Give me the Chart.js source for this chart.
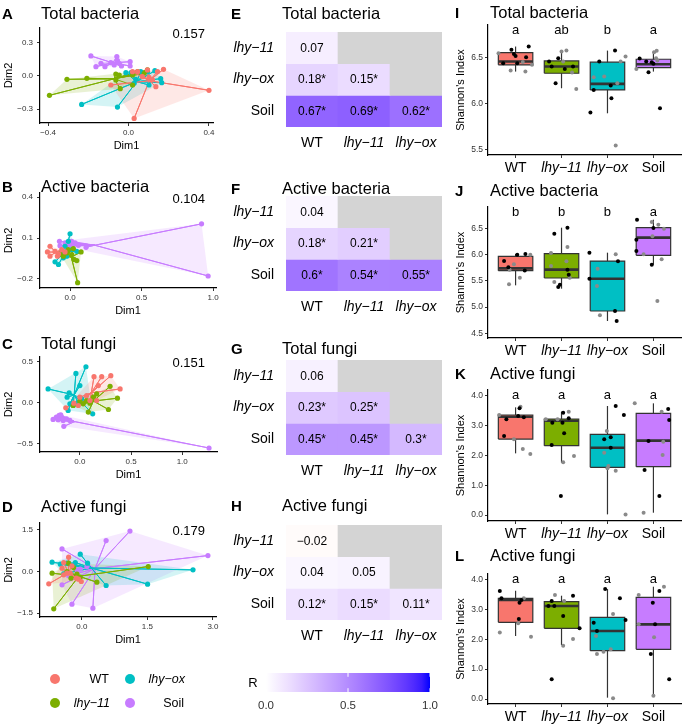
<!DOCTYPE html>
<html><head><meta charset="utf-8">
<script src="https://cdn.jsdelivr.net/npm/chart.js@4.4.0/dist/chart.umd.min.js"></script>
<style>
html,body{margin:0;padding:0;background:#fff;}
#wrap{position:relative;width:685px;height:725px;overflow:hidden;font-family:'Liberation Sans',Arial,sans-serif;}
#wrap canvas{position:absolute;left:0;top:0;}
.t{position:absolute;white-space:nowrap;line-height:1;color:#000;z-index:5;}
.dot{position:absolute;border-radius:50%;z-index:5;}
</style></head><body><div id="wrap"></div>
<script>
// ================= DATA =================
const GROUPS = ['WT', 'lhy−11', 'lhy−ox', 'Soil'];
const HEAT_ROWS = ['lhy−11', 'lhy−ox', 'Soil'];
const HEAT_COLS = ['WT', 'lhy−11', 'lhy−ox'];

// --- Ordination (Dim1, Dim2) points, panel A: Total bacteria
const ordA_WT = [[0.028,-0.385],[0.4,-0.13],[-0.088,-0.082],[0.02,0.039],[0.045,0.039],[0.094,0.055],[0.174,0.061],[0.136,-0.097],[0.119,-0.036],[0.144,0.039],[0.069,-0.006],[0.102,-0.012]];
const ordA_lhy11 = [[-0.393,-0.176],[-0.306,-0.03],[-0.207,-0.021],[-0.063,0.018],[-0.063,-0.036],[-0.041,-0.115],[-0.046,0.009],[0.02,0.009],[0.045,0.039],[0.078,0.024],[0.094,0.055],[0.02,-0.082]];
const ordA_lhyox = [[-0.233,-0.258],[-0.055,-0.282],[-0.013,0.03],[0.012,0.03],[0.036,-0.03],[0.061,0.039],[0.094,0.039],[0.131,0.048],[0.16,-0.024],[0.165,-0.061],[0.102,-0.082],[0.028,-0.067]];
const ordA_Soil = [[-0.187,0.182],[-0.162,0.085],[-0.117,0.085],[-0.088,0.121],[-0.058,0.176],[-0.055,0.139],[-0.071,0.1],[-0.046,0.115],[-0.035,0.091],[0.008,0.13],[0.008,0.091],[-0.137,0.115]];
const ordA_stat = '0.157';
const ordA_xTicks = [-0.4, 0, 0.4];
const ordA_yTicks = [-0.3, 0, 0.3];

// --- panel B: Active bacteria
const ordB_WT = [[-0.14,0.04],[-0.158,-0.002],[-0.14,-0.033],[-0.105,0.003],[-0.081,-0.016],[-0.058,0.015],[-0.035,-0.002],[-0.088,-0.033]];
const ordB_lhy11 = [[0.053,-0.227],[0.077,-0.002],[0.047,-0.065],[0.012,-0.021],[-0.023,-0.009],[-0.047,-0.033],[0.023,0.023],[-0.07,-0.016],[-0.012,0.015],[0.028,-0.057]];
const ordB_lhyox = [[0,0.131],[-0.012,0.076],[-0.081,-0.094],[-0.105,-0.074],[-0.047,-0.045],[-0.058,-0.004],[0.012,0.015],[0.047,0.003],[-0.023,-0.033],[-0.035,0.04]];
const ordB_Soil = [[0.919,0.204],[0.965,-0.178],[-0.074,0.076],[-0.07,0.044],[-0.035,0.064],[0,0.052],[0.035,0.064],[0.058,0.047],[0.112,0.032],[-0.023,0.04],[0.012,0.076]];
const ordB_stat = '0.104';
const ordB_xTicks = [0, 0.5, 1.0];
const ordB_yTicks = [-0.2, 0.1, 0.4];

// --- panel C: Total fungi
const ordC_WT = [[0.138,0.32],[0.213,0.32],[0.302,0.332],[0.393,0.17],[0.066,0.089],[0,0.069],[-0.138,-0.061],[-0.016,-0.032],[0.098,0.028],[0.164,0.028],[0.18,0.211],[-0.059,-0.004]];
const ordC_lhy11 = [[0.295,0.202],[0.367,0.057],[0.279,-0.081],[0.082,-0.113],[0.164,0.109],[0.098,-0.004],[0.033,-0.012],[-0.066,-0.032],[0,0.02],[0.131,0.069],[0.066,0.028]];
const ordC_lhyox = [[-0.311,0.17],[-0.039,0.36],[0.059,0.441],[0,0.211],[-0.105,0.121],[-0.125,0.069],[-0.098,-0.012],[-0.115,-0.093],[-0.066,-0.032],[-0.016,0.008],[0.125,-0.134],[0.016,0.049]];
const ordC_Soil = [[1.262,-0.551],[-0.262,-0.202],[-0.23,-0.174],[-0.203,-0.154],[-0.18,-0.174],[-0.164,-0.215],[-0.157,-0.287],[-0.213,-0.206],[-0.131,-0.194],[-0.098,-0.215],[-0.187,-0.146]];
const ordC_stat = '0.151';
const ordC_xTicks = [0, 0.5, 1.0];
const ordC_yTicks = [-0.5, 0, 0.5];

// --- panel D: Active fungi
const ordD_WT = [[-0.759,-0.444],[-0.304,0.516],[-0.456,0.12],[-0.342,-0.06],[-0.015,-0.36],[-0.129,-0.24],[-0.228,0.204],[-0.418,0.324],[-0.266,-0.06],[-0.076,-0.276],[-0.418,-0.12]];
const ordD_lhy11 = [[-0.645,-1.344],[-0.683,-0.06],[0.342,-0.384],[1.519,0.18],[-0.038,-0.204],[-0.19,0.144],[-0.304,0.3],[-0.114,-0.096],[-0.342,0],[-0.25,-0.24]];
const ordD_lhyox = [[2.544,0.06],[1.503,-0.456],[0.554,-0.504],[-0.038,0.624],[-0.683,0.336],[-0.494,0.264],[-0.342,0.3],[-0.152,0.324],[0.129,0.3],[-0.418,-0.084],[-0.228,0.24]];
const ordD_Soil = [[2.885,0.576],[1.1,1.46],[0.554,1.116],[-0.456,0.816],[-0.456,-0.48],[-0.228,-1.176],[0.251,-1.32],[-0.038,0.084],[-0.304,-0.156],[0.114,0.18],[-0.114,0.06]];
const ordD_stat = '0.179';
const ordD_xTicks = [0, 1.5, 3.0];
const ordD_yTicks = [-1.5, 0, 1.5];

// --- ANOSIM R heatmaps (rows: lhy−11, lhy−ox, Soil; cols: WT, lhy−11, lhy−ox); null = not compared
const heatE_R = [[0.07,null,null],[0.18,0.15,null],[0.67,0.69,0.62]];
const heatE_sig = [[0,0,0],[1,1,0],[1,1,1]];
const heatF_R = [[0.04,null,null],[0.18,0.21,null],[0.6,0.54,0.55]];
const heatF_sig = [[0,0,0],[1,1,0],[1,1,1]];
const heatG_R = [[0.06,null,null],[0.23,0.25,null],[0.45,0.45,0.3]];
const heatG_sig = [[0,0,0],[1,1,0],[1,1,1]];
const heatH_R = [[-0.02,null,null],[0.04,0.05,null],[0.12,0.15,0.11]];
const heatH_sig = [[0,0,0],[0,0,0],[1,1,1]];
const colorbarTicks = [0, 0.5, 1.0];

// --- Shannon index box plots (per group: WT, lhy−11, lhy−ox, Soil)
const boxI_lo  = [6.344, 6.163, 5.891, 6.344];
const boxI_q1  = [6.417, 6.326, 6.145, 6.388];
const boxI_med = [6.453, 6.399, 6.21, 6.424];
const boxI_q3  = [6.551, 6.46, 6.446, 6.478];
const boxI_hi  = [6.616, 6.572, 6.572, 6.569];
const ptsI_black = [[0.73,6.435],[0.91,6.58],[0.964,6.536],[1.0,6.514],[1.036,6.435],[1.229,6.5],[1.286,6.616],[1.729,6.453],[1.786,6.4],[1.871,6.217],[1.929,6.489],[2.071,6.373],[2.25,6.399],[2.629,5.899],[2.7,6.145],[2.821,6.453],[3.071,6.192],[3.086,6.054],[3.164,6.572],[3.7,6.486],[3.843,6.453],[3.893,6.337],[3.964,6.445],[4.0,6.43],[4.143,5.946]];
const ptsI_gray = [[0.629,6.543],[0.893,6.355],[1.157,6.449],[1.214,6.344],[1.357,6.417],[2.0,6.562],[2.107,6.572],[2.036,6.453],[2.229,6.333],[2.321,6.156],[2.7,6.283],[2.929,6.29],[3.179,5.54],[3.214,6.217],[3.286,6.453],[3.393,6.507],[3.629,6.373],[4.014,6.554],[4.071,6.569],[4.057,6.489],[4.086,6.464]];
const lettersI = ['a','ab','b','a'];
const yTicksI = [5.5, 6.0, 6.5];

const boxJ_lo  = [5.416, 5.352, 4.733, 5.811];
const boxJ_q1  = [5.696, 5.556, 4.925, 5.99];
const boxJ_med = [5.74, 5.716, 5.543, 6.328];
const boxJ_q3  = [5.971, 6.022, 5.881, 6.519];
const boxJ_hi  = [6.015, 6.519, 6.041, 6.672];
const ptsJ_black = [[0.75,5.88],[0.843,5.76],[1.036,6.0],[1.214,6.015],[1.2,5.7],[1.843,6.404],[2.129,6.519],[1.929,5.384],[1.964,5.429],[2.129,5.716],[2.157,5.62],[2.607,6.041],[2.607,5.543],[3.164,4.925],[3.2,4.733],[3.229,5.875],[3.643,6.672],[3.629,6.29],[3.629,6.073],[4.0,6.513],[3.964,5.811]];
const ptsJ_gray = [[0.857,5.435],[0.964,5.82],[0.871,5.716],[1.093,5.56],[1.321,6.0],[1.771,6.034],[1.771,5.786],[1.843,5.48],[2.129,6.149],[2.179,5.563],[2.107,5.875],[2.786,5.735],[2.771,5.403],[2.836,4.842],[3.179,6.009],[3.786,6.009],[3.964,6.628],[4.107,6.577],[3.979,6.353],[4.229,6.5],[4.179,5.913],[4.086,5.116]];
const lettersJ = ['b','b','b','a'];
const yTicksJ = [4.5, 5.0, 5.5, 6.0, 6.5];

const boxK_lo  = [2.067, 1.754, 0.022, 0.078];
const boxK_q1  = [2.547, 2.324, 1.598, 1.62];
const boxK_med = [3.296, 3.162, 2.257, 2.492];
const boxK_q3  = [3.352, 3.218, 2.704, 3.408];
const boxK_hi  = [3.609, 3.464, 3.654, 3.743];
const ptsK_black = [[0.75,2.648],[0.8,3.207],[1.057,3.318],[1.086,3.575],[1.179,3.274],[1.786,2.346],[1.8,3.095],[1.986,0.637],[2.021,3.095],[2.036,3.43],[2.057,2.737],[2.157,3.24],[2.929,2.536],[3.071,2.603],[3.071,2.257],[3.179,3.654],[3.357,3.352],[3.807,1.508],[3.893,2.48],[4.129,0.637],[4.321,3.553],[4.343,3.184]];
const ptsK_gray = [[0.643,3.352],[0.964,2.536],[1.107,3.631],[1.157,2.212],[1.321,2.045],[1.657,3.207],[1.914,3.207],[2.036,1.765],[2.157,3.464],[2.271,1.978],[2.929,2.09],[2.986,2.816],[3.021,1.642],[3.0,1.564],[3.179,1.486],[3.393,0.022],[3.593,3.743],[3.786,0.078],[4.179,3.464],[4.214,2.458],[4.2,2.011]];
const lettersK = ['a','a','a','a'];
const yTicksK = [0, 1, 2, 3, 4];

const boxL_lo  = [2.106, 1.805, 0.045, 0.112];
const boxL_q1  = [2.563, 2.362, 1.616, 1.66];
const boxL_med = [3.31, 3.108, 2.273, 2.496];
const boxL_q3  = [3.365, 3.253, 2.73, 3.398];
const boxL_hi  = [3.62, 3.454, 3.677, 3.755];
const ptsL_black = [[0.657,3.61],[0.693,3.365],[1.086,3.22],[1.129,3.31],[1.071,2.674],[1.714,3.108],[1.786,3.276],[1.843,3.108],[2.036,2.774],[2.25,3.454],[2.393,2.362],[1.786,0.657],[2.7,2.552],[2.771,2.273],[2.95,3.677],[3.271,3.365],[3.393,2.641],[3.943,1.504],[3.986,3.22],[4.036,2.496],[4.129,3.61],[4.343,0.657]];
const ptsL_gray = [[0.657,2.228],[1.057,2.529],[1.179,3.365],[1.336,2.084],[1.857,3.476],[2.036,1.783],[2.057,3.276],[2.25,2.006],[2.75,2.106],[2.771,1.504],[2.914,1.583],[3.071,1.66],[3.121,2.841],[3.121,0.022],[3.679,3.476],[3.679,2.496],[4.0,0.112],[4.014,2.062],[4.229,3.755]];
const lettersL = ['a','a','a','a'];
const yTicksL = [0, 1, 2, 3, 4];

// ================= STYLE / LAYOUT =================
const W = 685, H = 725;
const FONT = "'Liberation Sans', Arial, sans-serif";
const GROUP_COLORS = ['#F8766D', '#7CAE00', '#00BFC4', '#C77CFF'];
const NA_GREY = '#D4D4D4';
const BOX_HALF = 0.375;
Chart.defaults.font.family = FONT;
Chart.defaults.color = '#000';

const wrap = document.getElementById('wrap');
function makeCanvas() {
  const c = document.createElement('canvas');
  c.width = W; c.height = H; c.style.width = W + 'px'; c.style.height = H + 'px';
  wrap.appendChild(c); return c.getContext('2d');
}
function fitter(size) {
  return (s) => {
    if (s.isHorizontal()) s.height = size; else s.width = size;
    s.paddingLeft = 0; s.paddingRight = 0; s.paddingTop = 0; s.paddingBottom = 0;
  };
}
function pad(a, yW, xH) { return {left: a.l - yW, top: a.t, right: W - a.r, bottom: H - a.b - xH}; }
function fmt1(v) { return (v < 0 ? '−' : '') + Math.abs(v).toFixed(1); }
function fmtR(v) { return (v < 0 ? '−' : '') + String(Math.abs(v)); }
function hexA(hex, a) {
  const n = parseInt(hex.slice(1), 16);
  return `rgba(${(n >> 16) & 255},${(n >> 8) & 255},${n & 255},${a})`;
}
function txt(x, cy, s, size, o = {}) {
  const d = document.createElement('div'); d.className = 't'; d.textContent = s;
  d.style.fontSize = size + 'px'; d.style.top = (cy - size * 0.5) + 'px'; d.style.left = x + 'px';
  if (o.bold) d.style.fontWeight = 'bold';
  if (o.italic) d.style.fontStyle = 'italic';
  if (o.right) d.style.transform = 'translateX(-100%)';
  if (o.center) d.style.transform = 'translateX(-50%)';
  wrap.appendChild(d);
}

// Lab colour ramp (white -> blue, white -> red for negatives)
function s2l(c){c/=255;return c<=0.04045?c/12.92:Math.pow((c+0.055)/1.055,2.4);}
function l2s(c){c=Math.max(0,Math.min(1,c));return Math.round(255*(c<=0.0031308?12.92*c:1.055*Math.pow(c,1/2.4)-0.055));}
function toLab(rgb){const [r,g,b]=rgb.map(s2l);const X=(0.4124*r+0.3576*g+0.1805*b)/0.95047,Y=0.2126*r+0.7152*g+0.0722*b,Z=(0.0193*r+0.1192*g+0.9505*b)/1.08883;const f=t=>t>0.008856?Math.cbrt(t):7.787*t+16/116;return [116*f(Y)-16,500*(f(X)-f(Y)),200*(f(Y)-f(Z))];}
function fromLab([L,a,b]){const fy=(L+16)/116,fx=fy+a/500,fz=fy-b/200;const fi=t=>t*t*t>0.008856?t*t*t:(t-16/116)/7.787;const X=0.95047*fi(fx),Y=fi(fy),Z=1.08883*fi(fz);return [l2s(3.2406*X-1.5372*Y-0.4986*Z),l2s(-0.9689*X+1.8758*Y+0.0415*Z),l2s(0.0557*X-0.2040*Y+1.0570*Z)];}
const LAB_MID = toLab([255,255,255]), LAB_HIGH = toLab([0,0,255]), LAB_LOW = toLab([255,0,0]);
function ramp(v){const t=Math.min(1,Math.abs(v));const e=v>=0?LAB_HIGH:LAB_LOW;const c=fromLab(LAB_MID.map((m,i)=>m+(e[i]-m)*t));return `rgb(${c[0]},${c[1]},${c[2]})`;}

function convexHull(pts) {
  const p = pts.slice().sort((a, b) => a[0] - b[0] || a[1] - b[1]);
  const cross = (o, a, b) => (a[0]-o[0])*(b[1]-o[1]) - (a[1]-o[1])*(b[0]-o[0]);
  const lower = [], upper = [];
  for (const q of p) { while (lower.length >= 2 && cross(lower[lower.length-2], lower[lower.length-1], q) <= 0) lower.pop(); lower.push(q); }
  for (let i = p.length - 1; i >= 0; i--) { const q = p[i]; while (upper.length >= 2 && cross(upper[upper.length-2], upper[upper.length-1], q) <= 0) upper.pop(); upper.push(q); }
  upper.pop(); lower.pop(); return lower.concat(upper);
}
const mean = a => a.reduce((s, v) => s + v, 0) / a.length;

function axisCommon(tickSize, tickPad) {
  return {
    grid: {display: true, drawOnChartArea: false, drawTicks: true, tickLength: 3, color: '#333', lineWidth: 1},
    border: {display: true, color: '#000', width: 1.2},
    ticks: {font: {size: tickSize}, color: '#333', padding: tickPad, maxRotation: 0, autoSkip: false, callback: v => fmt1(v)}
  };
}

// ---------- ordination panels ----------
function ordChart(area, xr, yr, xt, yt, sets) {
  const ds = [];
  sets.forEach((pts, gi) => {
    const col = GROUP_COLORS[gi];
    const P = pts.map(p => ({x: p[0], y: p[1]}));
    const c = {x: mean(pts.map(p => p[0])), y: mean(pts.map(p => p[1]))};
    const spider = []; P.forEach(p => { spider.push(c); spider.push(p); });
    const hull = convexHull(pts).map(p => ({x: p[0], y: p[1]})); hull.push(hull[0]);
    ds.push({data: hull, showLine: true, fill: 'shape', backgroundColor: hexA(col, 0.17), borderColor: 'rgba(0,0,0,0)', borderWidth: 0, pointRadius: 0, order: 3});
    ds.push({data: spider, showLine: true, fill: false, borderColor: col, borderWidth: 1, pointRadius: 0, order: 2});
    ds.push({data: P, showLine: false, pointRadius: 2.6, pointBackgroundColor: col, pointBorderWidth: 0, order: 1});
  });
  const yW = 38, xH = 30;
  const xa = axisCommon(8, 2), ya = axisCommon(8, 4);
  new Chart(makeCanvas(), {
    type: 'line',
    data: {datasets: ds},
    options: {
      responsive: false, animation: false, devicePixelRatio: 1,
      layout: {padding: pad(area, yW, xH)},
      plugins: {legend: {display: false}, tooltip: {enabled: false}},
      scales: {
        x: Object.assign(xa, {type: 'linear', min: xr[0], max: xr[1],
          afterBuildTicks: s => { s.ticks = xt.map(v => ({value: v})); }, afterFit: fitter(xH),
          title: {display: true, text: 'Dim1', font: {size: 11}, color: '#000', padding: 0}}),
        y: Object.assign(ya, {type: 'linear', min: yr[0], max: yr[1],
          afterBuildTicks: s => { s.ticks = yt.map(v => ({value: v})); }, afterFit: fitter(yW),
          title: {display: true, text: 'Dim2', font: {size: 11}, color: '#000', padding: 0}})
      }
    }
  });
}
ordChart({l:40, r:213, t:28, b:123}, [-0.44, 0.42], [-0.427, 0.436], ordA_xTicks, ordA_yTicks, [ordA_WT, ordA_lhy11, ordA_lhyox, ordA_Soil]);
ordChart({l:40, r:216, t:193, b:288}, [-0.21, 1.02], [-0.266, 0.43], ordB_xTicks, ordB_yTicks, [ordB_WT, ordB_lhy11, ordB_lhyox, ordB_Soil]);
ordChart({l:40, r:217, t:357, b:452}, [-0.39, 1.34], [-0.6, 0.56], ordC_xTicks, ordC_yTicks, [ordC_WT, ordC_lhy11, ordC_lhyox, ordC_Soil]);
ordChart({l:40, r:216, t:523, b:617}, [-0.96, 3.07], [-1.64, 1.75], ordD_xTicks, ordD_yTicks, [ordD_WT, ordD_lhy11, ordD_lhyox, ordD_Soil]);

// ---------- heatmaps ----------
const cellTextPlugin = {
  id: 'cellText',
  afterDatasetsDraw(chart) {
    const ctx = chart.ctx;
    ctx.save();
    ctx.font = '12px ' + FONT; ctx.fillStyle = '#000'; ctx.textAlign = 'center'; ctx.textBaseline = 'middle';
    chart.data.datasets.forEach((d, i) => {
      chart.getDatasetMeta(i).data.forEach((el, j) => {
        const v = d.rValues[j];
        if (v === null || v === undefined) return;
        ctx.fillText(fmtR(v) + (d.sig[j] ? '*' : ''), el.x, (el.y + el.base) / 2 + 0.5);
      });
    });
    ctx.restore();
  }
};
function heatChart(area, R, S) {
  const n = HEAT_ROWS.length;
  const datasets = HEAT_ROWS.map((row, r) => {
    const lo = n - 1 - r;
    return {
      label: row, data: HEAT_COLS.map(() => [lo, lo + 1]),
      backgroundColor: R[r].map(v => v === null ? NA_GREY : ramp(v)),
      rValues: R[r], sig: S[r], grouped: false, barPercentage: 1, categoryPercentage: 1, borderWidth: 0
    };
  });
  const yW = 80, xH = 30;
  new Chart(makeCanvas(), {
    type: 'bar',
    data: {labels: HEAT_COLS, datasets},
    plugins: [cellTextPlugin],
    options: {
      responsive: false, animation: false, devicePixelRatio: 1,
      layout: {padding: pad(area, yW, xH)},
      plugins: {legend: {display: false}, tooltip: {enabled: false}},
      scales: {
        x: {type: 'category', afterFit: fitter(xH), grid: {display: false, drawTicks: false}, border: {display: false},
            ticks: {padding: 8, color: '#000', font: c => ({size: 14, style: c.index > 0 ? 'italic' : 'normal'})}},
        y: {type: 'linear', min: 0, max: n, afterFit: fitter(yW), grid: {display: false, drawTicks: false}, border: {display: false},
            afterBuildTicks: s => { s.ticks = HEAT_ROWS.map((_, i) => ({value: i + 0.5})); },
            ticks: {padding: 12, color: '#000', autoSkip: false, callback: v => HEAT_ROWS[n - 1 - Math.floor(v)],
                    font: c => ({size: 14, style: c.index === 0 ? 'normal' : 'italic'})}}
      }
    }
  });
}
heatChart({l:286, r:442, t:32, b:127}, heatE_R, heatE_sig);
heatChart({l:286, r:442, t:196, b:291}, heatF_R, heatF_sig);
heatChart({l:286, r:442, t:360, b:455}, heatG_R, heatG_sig);
heatChart({l:286, r:442, t:525, b:620}, heatH_R, heatH_sig);

// colour bar
(function () {
  const area = {l:266, r:430, t:673, b:692};
  const xH = 25;
  const ds = [{
    data: [{x:0,y:0},{x:1,y:0},{x:1,y:1},{x:0,y:1},{x:0,y:0}], showLine: true, fill: 'shape',
    backgroundColor: (c) => {
      const ch = c.chart; if (!ch.chartArea || !ch.scales.x) return 'rgba(0,0,0,0)';
      const g = ch.ctx.createLinearGradient(ch.scales.x.getPixelForValue(0), 0, ch.scales.x.getPixelForValue(1), 0);
      for (let i = 0; i <= 20; i++) g.addColorStop(i / 20, ramp(i / 20));
      return g;
    },
    borderColor: 'rgba(0,0,0,0)', borderWidth: 0, pointRadius: 0, order: 2
  }];
  colorbarTicks.forEach(v => {
    ds.push({data: [{x:v,y:0},{x:v,y:0.2}], showLine: true, borderColor: '#fff', borderWidth: 1, pointRadius: 0, order: 1});
    ds.push({data: [{x:v,y:0.8},{x:v,y:1}], showLine: true, borderColor: '#fff', borderWidth: 1, pointRadius: 0, order: 1});
  });
  new Chart(makeCanvas(), {
    type: 'line', data: {datasets: ds},
    options: {
      responsive: false, animation: false, devicePixelRatio: 1,
      layout: {padding: pad(area, 0, xH)},
      plugins: {legend: {display: false}, tooltip: {enabled: false}},
      scales: {
        x: {type: 'linear', min: 0, max: 1, afterFit: fitter(xH), grid: {display: false, drawTicks: false}, border: {display: false},
            afterBuildTicks: s => { s.ticks = colorbarTicks.map(v => ({value: v})); },
            ticks: {padding: 7, color: '#333', font: {size: 11.5}, callback: v => fmt1(v), maxRotation: 0, autoSkip: false}},
        y: {type: 'linear', min: 0, max: 1, display: false, afterFit: fitter(0)}
      }
    }
  });
})();

// ---------- box plots ----------
const letterPlugin = {
  id: 'groupLetters',
  afterDatasetsDraw(chart, args, opts) {
    const ctx = chart.ctx; ctx.save();
    ctx.font = '13px ' + FONT; ctx.fillStyle = '#000'; ctx.textAlign = 'center'; ctx.textBaseline = 'middle';
    opts.letters.forEach((l, i) => ctx.fillText(l, chart.scales.x.getPixelForValue(i + 1), chart.scales.y.getPixelForValue(opts.y)));
    ctx.restore();
  }
};
function boxChart(area, yr, yt, st, black, gray, letters, letterY) {
  const ds = [];
  GROUPS.forEach((g, i) => {
    const x = i + 1;
    ds.push({data: [{x, y: st.lo[i]}, {x, y: st.hi[i]}], showLine: true, borderColor: '#333', borderWidth: 1.2, pointRadius: 0, order: 4});
    ds.push({data: [{x: x - BOX_HALF, y: st.q1[i]}, {x: x + BOX_HALF, y: st.q1[i]}, {x: x + BOX_HALF, y: st.q3[i]}, {x: x - BOX_HALF, y: st.q3[i]}, {x: x - BOX_HALF, y: st.q1[i]}],
             showLine: true, fill: 'shape', backgroundColor: GROUP_COLORS[i], borderColor: '#333', borderWidth: 1.2, borderJoinStyle: 'miter', pointRadius: 0, order: 3});
    ds.push({data: [{x: x - BOX_HALF, y: st.med[i]}, {x: x + BOX_HALF, y: st.med[i]}], showLine: true, borderColor: '#333', borderWidth: 2.6, pointRadius: 0, order: 2});
  });
  ds.push({data: gray.map(p => ({x: p[0], y: p[1]})), showLine: false, pointRadius: 2, pointBackgroundColor: '#8A8A8A', pointBorderWidth: 0, order: 1});
  ds.push({data: black.map(p => ({x: p[0], y: p[1]})), showLine: false, pointRadius: 2, pointBackgroundColor: '#000', pointBorderWidth: 0, order: 0});
  const yW = 33.6, xH = 26;
  const xa = axisCommon(14, 2), ya = axisCommon(8.5, 2);
  xa.ticks.font = c => ({size: 14, style: (c.index === 1 || c.index === 2) ? 'italic' : 'normal'});
  xa.ticks.color = '#000';
  xa.ticks.callback = v => GROUPS[Math.round(v) - 1];
  new Chart(makeCanvas(), {
    type: 'line', data: {datasets: ds},
    plugins: [letterPlugin],
    options: {
      responsive: false, animation: false, devicePixelRatio: 1,
      layout: {padding: pad(area, yW, xH)},
      plugins: {legend: {display: false}, tooltip: {enabled: false}, groupLetters: {letters, y: letterY}},
      scales: {
        x: Object.assign(xa, {type: 'linear', min: 0.4, max: 4.6, afterFit: fitter(xH),
          afterBuildTicks: s => { s.ticks = GROUPS.map((_, i) => ({value: i + 1})); }}),
        y: Object.assign(ya, {type: 'linear', min: yr[0], max: yr[1], afterFit: fitter(yW),
          afterBuildTicks: s => { s.ticks = yt.map(v => ({value: v})); },
          title: {display: true, text: "Shannon's Index", font: {size: 11}, color: '#000', padding: 0}})
      }
    }
  });
}
boxChart({l:488, r:685, t:25, b:155}, [5.438, 6.85], yTicksI, {lo: boxI_lo, q1: boxI_q1, med: boxI_med, q3: boxI_q3, hi: boxI_hi}, ptsI_black, ptsI_gray, lettersI, 6.79);
boxChart({l:488, r:685, t:207, b:338}, [4.408, 6.915], yTicksJ, {lo: boxJ_lo, q1: boxJ_q1, med: boxJ_med, q3: boxJ_q3, hi: boxJ_hi}, ptsJ_black, ptsJ_gray, lettersJ, 6.806);
boxChart({l:488, r:685, t:390, b:521}, [-0.2, 4.19], yTicksK, {lo: boxK_lo, q1: boxK_q1, med: boxK_med, q3: boxK_q3, hi: boxK_hi}, ptsK_black, ptsK_gray, lettersK, 4.02);
boxChart({l:488, r:685, t:574, b:704}, [-0.167, 4.18], yTicksL, {lo: boxL_lo, q1: boxL_q1, med: boxL_med, q3: boxL_q3, hi: boxL_hi}, ptsL_black, ptsL_gray, lettersL, 4.0);

// ---------- texts: panel tags, titles, stats, legend ----------
const TAG = 15, TITLE = 16.5;
[['A','Total bacteria',13],['B','Active bacteria',186],['C','Total fungi',343],['D','Active fungi',506]].forEach(([l,t,y]) => { txt(2, y, l, TAG, {bold:true}); txt(41, y, t, TITLE); });
[['E','Total bacteria',13],['F','Active bacteria',188],['G','Total fungi',348],['H','Active fungi',505]].forEach(([l,t,y]) => { txt(231, y, l, TAG, {bold:true}); txt(282, y, t, TITLE); });
[['I','Total bacteria',12],['J','Active bacteria',190],['K','Active fungi',373],['L','Active fungi',555]].forEach(([l,t,y]) => { txt(455, y, l, TAG, {bold:true}); txt(490, y, t, TITLE); });
[[ordA_stat,33],[ordB_stat,198],[ordC_stat,362],[ordD_stat,530]].forEach(([s,y]) => txt(205, y, s, 13, {right:true}));
txt(253, 682, 'R', 13, {center:true});

// legend
[[0,55,679,109],[2,130,679,185],[1,55,703,110],[3,130,703,184]].forEach(([gi,cx,cy,rx]) => {
  const d = document.createElement('div'); d.className = 'dot';
  d.style.left = (cx - 5) + 'px'; d.style.top = (cy - 5) + 'px'; d.style.width = '10px'; d.style.height = '10px';
  d.style.background = GROUP_COLORS[gi]; wrap.appendChild(d);
  txt(rx, cy, GROUPS[gi], 12.5, {right:true, italic: gi === 1 || gi === 2});
});
</script></body></html>
